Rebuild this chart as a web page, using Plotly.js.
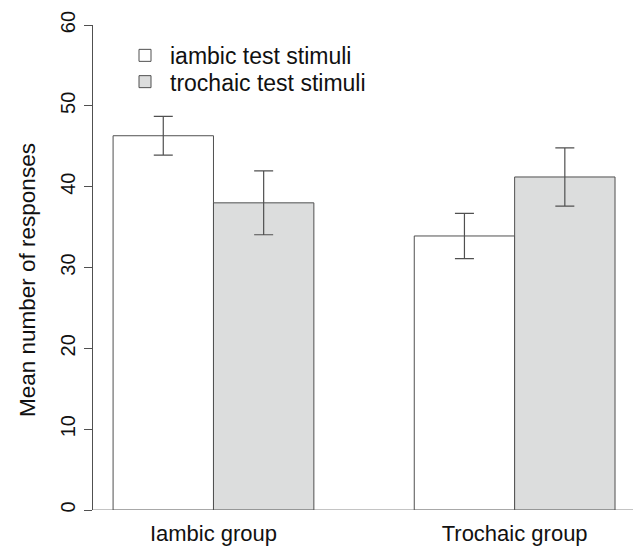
<!DOCTYPE html>
<html>
<head>
<meta charset="utf-8">
<script src="https://cdn.plot.ly/plotly-3.0.1.min.js"></script>
<style>html,body{margin:0;padding:0;background:#fff;}#chart{width:633px;height:547px;}</style>
</head>
<body>
<div id="chart"></div>
<script>
const groups = ["Iambic group", "Trochaic group"];
const seriesNames = ["iambic test stimuli", "trochaic test stimuli"];
const iambicStimuli = [46.3, 33.9];
const iambicErr = [2.4, 2.8];
const trochaicStimuli = [38.0, 41.2];
const trochaicErr = [3.95, 3.6];
const yTicks = [0, 10, 20, 30, 40, 50, 60];

const FONT = "Liberation Sans, Arial, Helvetica, sans-serif";
const edge = "#505050";

const traces = [
  {
    type: "bar", name: seriesNames[0], x: groups, y: iambicStimuli,
    marker: {color: "#ffffff", line: {color: edge, width: 1}},
    error_y: {type: "data", array: iambicErr, visible: true, color: edge, thickness: 1.2, width: 9.5},
    legend: "legend"
  },
  {
    type: "bar", name: seriesNames[1], x: groups, y: trochaicStimuli,
    marker: {color: "#dcdddd", line: {color: edge, width: 1}},
    error_y: {type: "data", array: trochaicErr, visible: true, color: edge, thickness: 1.2, width: 9.5},
    legend: "legend2"
  }
];

const legendCommon = {
  font: {family: FONT, size: 23, color: "#111"},
  bgcolor: "rgba(0,0,0,0)", borderwidth: 0,
  xanchor: "left", yanchor: "middle", itemwidth: 40
};

const layout = {
  width: 633, height: 547,
  margin: {l: 93, r: 0, t: 25, b: 37, pad: 0},
  paper_bgcolor: "#fff", plot_bgcolor: "#fff",
  font: {family: FONT, color: "#111"},
  barmode: "group", bargap: 1/3, bargroupgap: 0,
  showlegend: true,
  legend: Object.assign({}, legendCommon, {x: 0.05, y: (510 - 55.4) / 485}),
  legend2: Object.assign({}, legendCommon, {x: 0.05, y: (510 - 81.7) / 485}),
  xaxis: {
    type: "category", range: [-0.4, 1.393],
    showline: false, showgrid: false, zeroline: false, ticks: "",
    tickfont: {family: FONT, size: 22, color: "#111"},
    ticklabelstandoff: 8, fixedrange: true
  },
  yaxis: {
    range: [0, 60], tickvals: yTicks, ticktext: yTicks.map(String),
    showline: true, linecolor: edge, linewidth: 1,
    ticks: "outside", ticklen: 8, tickcolor: edge, tickwidth: 1,
    tickangle: -90, tickfont: {family: FONT, size: 20, color: "#111"},
    ticklabelstandoff: 1,
    showgrid: false, zeroline: false, fixedrange: true
  },
  shapes: [
    {type: "line", xref: "paper", yref: "y", x0: 0, x1: 1, y0: 0, y1: 0,
     line: {color: "#8a8a8a", width: 1.2}, layer: "below"}
  ],
  annotations: [
    {text: "Mean number of responses", xref: "paper", yref: "paper",
     x: (27 - 93) / 540, y: (510 - 280) / 485, xanchor: "center", yanchor: "middle",
     textangle: -90, showarrow: false, font: {family: FONT, size: 22.5, color: "#111"}}
  ]
};

Plotly.newPlot("chart", traces, layout, {staticPlot: true, displayModeBar: false});
</script>
</body>
</html>
